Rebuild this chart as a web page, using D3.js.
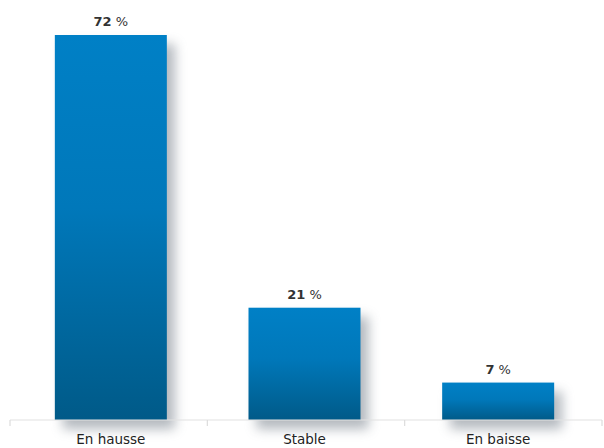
<!DOCTYPE html>
<html>
<head>
<meta charset="utf-8">
<script src="https://cdn.jsdelivr.net/npm/d3@7/dist/d3.min.js"></script>
<style>
  html, body { margin: 0; padding: 0; background: #fff; }
  svg { display: block; }
</style>
</head>
<body>
<script>
// Share of answers per trend
const categories = ["En hausse", "Stable", "En baisse"];
const values = [72, 21, 7];

const width = 604, height = 448;
const baseY = 420, topY = 35;

const svg = d3.select("body").append("svg")
  .attr("width", width).attr("height", height);

const defs = svg.append("defs");
const grad = defs.append("linearGradient")
  .attr("id", "barGrad").attr("x1", 0).attr("y1", 0).attr("x2", 0).attr("y2", 1);
grad.append("stop").attr("offset", "0%").attr("stop-color", "#0080c6");
grad.append("stop").attr("offset", "45%").attr("stop-color", "#0078ba");
grad.append("stop").attr("offset", "100%").attr("stop-color", "#005a88");

const shadow = defs.append("filter").attr("id", "shadow")
  .attr("x", "-30%").attr("y", "-30%").attr("width", "170%").attr("height", "170%");
shadow.append("feGaussianBlur").attr("in", "SourceGraphic").attr("stdDeviation", 6);

// bar placement and axis frame
const x = d3.scaleBand().domain(categories).range([14, 595]);
const frame = d3.scaleBand().domain(categories).range([10, 602]);
const y = d3.scaleLinear().domain([0, 72]).range([baseY, topY]);
const barW = 112;
const barX = (d, i) => x(categories[i]) + x.bandwidth() / 2 - barW / 2;

const g = svg.append("g");

// drop shadows behind the bars
g.selectAll("rect.shadow").data(values).enter().append("rect")
  .attr("class", "shadow")
  .attr("x", (d, i) => barX(d, i) + 8)
  .attr("y", d => y(d) + 9)
  .attr("width", barW)
  .attr("height", d => baseY - y(d))
  .attr("fill", "#6b7480")
  .attr("opacity", 0.5)
  .attr("filter", "url(#shadow)");

// axis
const axis = d3.axisBottom(x).tickSize(0).tickPadding(14);
const ag = svg.append("g").attr("transform", `translate(0,${baseY})`).call(axis);
ag.select(".domain").remove();
ag.append("line")
  .attr("x1", frame.range()[0]).attr("x2", frame.range()[1])
  .attr("y1", 0).attr("y2", 0)
  .attr("stroke", "#e2e2e2").attr("stroke-width", 1.2);
ag.selectAll(".tick text")
  .attr("font-family", "'DejaVu Sans', Verdana, sans-serif")
  .attr("font-size", 13.5).attr("fill", "#222");
// boundary ticks between categories
const edges = categories.map(c => frame(c)).concat([frame.range()[1]]);
ag.selectAll("line.edge").data(edges).enter().append("line")
  .attr("class", "edge")
  .attr("x1", d => d).attr("x2", d => d)
  .attr("y1", 0).attr("y2", 6)
  .attr("stroke", "#dcdcdc").attr("stroke-width", 1.2);

// bars
g.selectAll("rect.bar").data(values).enter().append("rect")
  .attr("class", "bar")
  .attr("x", barX)
  .attr("y", d => y(d))
  .attr("width", barW)
  .attr("height", d => baseY - y(d))
  .attr("fill", "url(#barGrad)");

// value labels
const lab = g.selectAll("text.val").data(values).enter().append("text")
  .attr("class", "val")
  .attr("x", (d, i) => x(categories[i]) + x.bandwidth() / 2)
  .attr("y", d => y(d) - 9)
  .attr("text-anchor", "middle")
  .attr("font-family", "'DejaVu Sans', Verdana, sans-serif")
  .attr("font-size", 13).attr("fill", "#333");
lab.append("tspan").attr("font-weight", "bold").text(d => d);
lab.append("tspan").text(" %");
</script>
</body>
</html>
